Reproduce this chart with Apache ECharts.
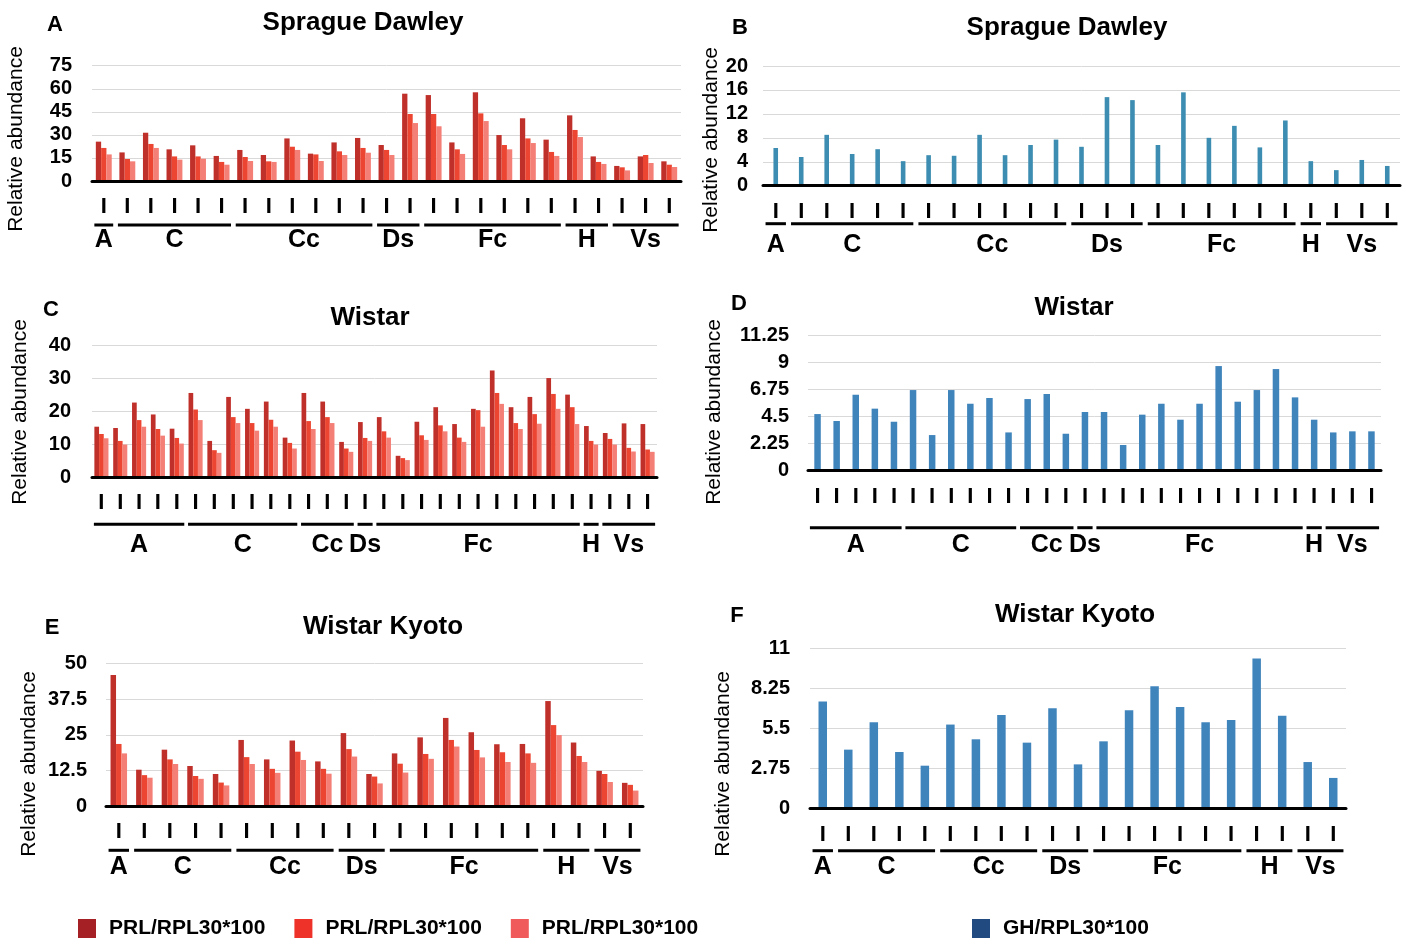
<!DOCTYPE html>
<html>
<head>
<meta charset="utf-8">
<script src="https://cdn.jsdelivr.net/npm/echarts@6/dist/echarts.min.js"></script>
<style>
  html, body { margin: 0; padding: 0; background: #fff; }
  #chart { width: 1417px; height: 938px; }
</style>
</head>
<body>
<div id="chart"></div>
<script>
// ---- data ---------------------------------------------------------------
const tissues = ['A', 'C', 'Cc', 'Ds', 'Fc', 'H', 'Vs'];
const tickMark = 'I';
const prlLabel = 'PRL/RPL30*100';
const ghLabel = 'GH/RPL30*100';
const yName = 'Relative abundance';

// samples per tissue in each panel
const sdPrlSizes = [1, 5, 6, 2, 6, 2, 3];
const sdGhSizes  = [1, 5, 6, 3, 6, 1, 3];
const wSizes     = [5, 6, 3, 1, 11, 1, 3];
const wkSizes    = [1, 4, 4, 2, 6, 2, 2];

// Sprague Dawley
const sdPrl1 = [25.6, 18.6, 31.4, 20.6, 23.2, 16.3, 20.2, 16.9, 27.7, 17.8, 25.1, 28.0, 23.4, 56.8, 55.9, 25.1, 57.7, 29.9, 40.8, 26.9, 42.7, 16.0, 9.8, 16.0, 12.8];
const sdPrl2 = [21.5, 14.3, 24.1, 16.0, 16.0, 12.4, 15.6, 12.8, 22.3, 17.3, 19.3, 21.5, 20.2, 43.6, 43.6, 20.6, 44.0, 23.4, 27.7, 18.9, 33.2, 12.4, 8.9, 16.9, 10.6];
const sdPrl3 = [17.3, 12.8, 21.5, 13.9, 14.5, 10.6, 13.0, 12.4, 20.2, 13.0, 16.9, 18.4, 16.9, 37.7, 35.6, 17.6, 39.0, 20.6, 24.7, 16.3, 28.6, 11.1, 6.9, 11.7, 9.1];
const sdGh   = [6.3, 4.8, 8.5, 5.3, 6.1, 4.1, 5.1, 5.0, 8.5, 5.1, 6.8, 7.7, 6.5, 14.8, 14.3, 6.8, 15.6, 8.0, 10.0, 6.4, 10.9, 4.1, 2.6, 4.3, 3.3];

// Wistar
const wPrl1 = [15.3, 14.9, 22.6, 19.0, 14.7, 25.5, 11.0, 24.3, 20.7, 22.9, 12.0, 25.5, 22.9, 10.7, 16.7, 18.2, 6.5, 16.8, 21.2, 16.1, 20.7, 32.3, 21.2, 24.3, 30.0, 25.0, 15.5, 13.4, 16.3, 16.1];
const wPrl2 = [13.1, 11.0, 17.3, 14.6, 11.9, 20.5, 8.2, 18.2, 16.4, 17.4, 10.4, 17.0, 18.2, 8.7, 11.9, 13.9, 5.8, 12.7, 15.7, 12.0, 20.3, 25.5, 16.4, 19.1, 25.2, 21.2, 11.0, 11.6, 8.9, 8.4];
const wPrl3 = [11.8, 9.9, 15.3, 12.6, 10.2, 17.3, 7.4, 16.4, 14.1, 15.3, 8.7, 14.6, 16.4, 7.7, 11.0, 12.0, 5.2, 11.3, 13.9, 10.7, 15.3, 22.2, 14.6, 16.2, 20.7, 16.1, 9.9, 9.9, 7.8, 7.7];
const wGh   = [4.72, 4.14, 6.33, 5.17, 4.08, 6.72, 2.97, 6.72, 5.58, 6.06, 3.19, 5.97, 6.39, 3.08, 4.89, 4.89, 2.14, 4.67, 5.58, 4.25, 5.58, 8.72, 5.75, 6.72, 8.47, 6.11, 4.25, 3.19, 3.28, 3.28];

// Wistar Kyoto
const wkPrl1 = [45.9, 12.8, 19.8, 14.1, 11.3, 23.2, 16.4, 23.0, 15.7, 25.6, 11.3, 18.5, 24.1, 30.9, 25.9, 21.7, 21.8, 36.8, 22.3, 12.4, 8.2];
const wkPrl2 = [21.8, 10.9, 16.4, 10.6, 8.3, 17.2, 13.1, 19.1, 13.1, 20.0, 10.4, 14.9, 18.3, 23.2, 19.7, 18.9, 18.5, 28.4, 17.6, 11.3, 7.5];
const wkPrl3 = [18.5, 10.0, 14.8, 9.6, 7.3, 14.8, 11.7, 16.2, 11.4, 17.4, 8.0, 11.8, 16.6, 20.9, 17.1, 15.5, 15.2, 24.9, 15.5, 8.5, 5.5];
const wkGh   = [7.35, 4.05, 5.93, 3.89, 2.95, 5.77, 4.76, 6.43, 4.53, 6.89, 3.04, 4.62, 6.75, 8.40, 6.98, 5.93, 6.09, 10.30, 6.38, 3.20, 2.11];

// y-axis ranges [max, interval]
const yA = [75, 15], yB = [20, 4], yC = [40, 10], yD = [11.25, 2.25], yE = [50, 12.5], yF = [11, 2.75];

// ---- styling -------------------------------------------------------------
const FONT = 'Liberation Sans, Arial, Helvetica, sans-serif';
const PRL_COLORS = ['#C0302B', '#EC4632', '#F47F77'];
const PRL_LEGEND = ['#A52024', '#EE3129', '#F05A5A'];
const GH_LEGEND = '#214A80';

// ---- helpers -------------------------------------------------------------
function categoriesFrom(sizes) {
  const out = [];
  sizes.forEach((n, g) => { for (let k = 1; k <= n; k++) out.push(tissues[g] + '-' + k); });
  return out;
}
function groupsFrom(sizes) {
  const out = [];
  let start = 0;
  sizes.forEach((n, g) => { out.push({ name: tissues[g], first: start, last: start + n - 1 }); start += n; });
  return out;
}

const panels = [
  { letter: 'A', title: 'Sprague Dawley', sizes: sdPrlSizes, y: yA,
    series: [['prl1', sdPrl1], ['prl2', sdPrl2], ['prl3', sdPrl3]], colors: PRL_COLORS, barWidth: 5.3,
    box: { left: 92, top: 65.7, width: 589, height: 115.3 }, yMargin: 20,
    lineOff: 44, labelOff: 59, titleAt: [363, 23], letterAt: [55, 25], nameAt: [16, 139] },
  { letter: 'B', title: 'Sprague Dawley', sizes: sdGhSizes, y: yB,
    series: [['gh', sdGh]], colors: ['#3C8DB1'], barWidth: 4.6,
    box: { left: 763, top: 66, width: 637, height: 119.7 }, yMargin: 15,
    lineOff: 38, labelOff: 59, titleAt: [1067, 28], letterAt: [740, 28], nameAt: [711, 140] },
  { letter: 'C', title: 'Wistar', sizes: wSizes, y: yC,
    series: [['prl1', wPrl1], ['prl2', wPrl2], ['prl3', wPrl3]], colors: PRL_COLORS, barWidth: 4.7,
    box: { left: 92, top: 345, width: 565, height: 132.3 }, yMargin: 21,
    lineOff: 47, labelOff: 68, titleAt: [370, 318], letterAt: [51, 310], nameAt: [20, 412] },
  { letter: 'D', title: 'Wistar', sizes: wSizes, y: yD,
    series: [['gh', wGh]], colors: ['#4084BC'], barWidth: 6.5,
    box: { left: 808, top: 335.7, width: 573, height: 135 }, yMargin: 19,
    lineOff: 57, labelOff: 74, titleAt: [1074, 308], letterAt: [739, 304], nameAt: [714, 412] },
  { letter: 'E', title: 'Wistar Kyoto', sizes: wkSizes, y: yE,
    series: [['prl1', wkPrl1], ['prl2', wkPrl2], ['prl3', wkPrl3]], colors: PRL_COLORS, barWidth: 5.5,
    box: { left: 106, top: 663.3, width: 537, height: 143 }, yMargin: 19,
    lineOff: 44, labelOff: 61, titleAt: [383, 627], letterAt: [52, 628], nameAt: [29, 764] },
  { letter: 'F', title: 'Wistar Kyoto', sizes: wkSizes, y: yF,
    series: [['gh', wkGh]], colors: ['#4084BC'], barWidth: 8.5,
    box: { left: 810, top: 648.3, width: 536, height: 160.4 }, yMargin: 20,
    lineOff: 42, labelOff: 58, titleAt: [1075, 615], letterAt: [737, 616], nameAt: [723, 764] }
];

const option = {
  animation: false,
  backgroundColor: '#ffffff',
  textStyle: { fontFamily: FONT },
  grid: [], xAxis: [], yAxis: [], series: [], graphic: [],
  legend: [
    { left: 78, top: 918, padding: 0, itemWidth: 18, itemHeight: 19, itemGap: 29, icon: 'rect',
      selectedMode: false, formatter: () => prlLabel,
      data: ['prl1', 'prl2', 'prl3'].map((n, i) => ({ name: n, itemStyle: { color: PRL_LEGEND[i] } })),
      textStyle: { fontSize: 21, fontWeight: 'bold', color: '#000', fontFamily: FONT, padding: [0, 0, 0, 8] } },
    { left: 972, top: 918, padding: 0, itemWidth: 18, itemHeight: 19, icon: 'rect',
      selectedMode: false, formatter: () => ghLabel,
      data: [{ name: 'gh', itemStyle: { color: GH_LEGEND } }],
      textStyle: { fontSize: 21, fontWeight: 'bold', color: '#000', fontFamily: FONT, padding: [0, 0, 0, 8] } }
  ]
};

panels.forEach((p, i) => {
  const cats = categoriesFrom(p.sizes);
  const groups = groupsFrom(p.sizes);

  option.grid.push(Object.assign({ containLabel: false, outerBoundsMode: 'none' }, p.box));

  option.xAxis.push({
    type: 'category', gridIndex: i, data: cats, boundaryGap: true,
    axisLine: { show: true, lineStyle: { color: '#000', width: 3 } },
    axisTick: { show: false },
    axisLabel: { interval: 0, formatter: () => tickMark, margin: 26, verticalAlign: 'middle',
                 fontSize: 22, fontWeight: 'bold', color: '#000', fontFamily: FONT },
    splitLine: { show: false }, z: 10
  });

  option.yAxis.push({
    type: 'value', gridIndex: i, min: 0, max: p.y[0], interval: p.y[1],
    axisLine: { show: false }, axisTick: { show: false },
    axisLabel: { margin: p.yMargin, fontSize: 20, fontWeight: 'bold', color: '#000', fontFamily: FONT },
    splitLine: { show: true, lineStyle: { color: '#D9D9D9', width: 1 } }
  });

  p.series.forEach(([name, data], k) => {
    option.series.push({
      type: 'bar', name: name, xAxisIndex: i, yAxisIndex: i, data: data,
      barWidth: p.barWidth, barGap: '0%',
      itemStyle: { color: p.colors[k] }, silent: true
    });
  });

  // tissue brackets: underline + label beneath each group of samples
  option.series.push({
    type: 'custom', xAxisIndex: i, yAxisIndex: i, silent: true, clip: false, z: 5,
    encode: { x: 0, y: 1 },
    data: groups.map(g => [g.first, 0, g.last]),
    renderItem: (params, api) => {
      const a = api.coord([api.value(0), 0]);
      const b = api.coord([api.value(2), 0]);
      const bw = api.size([1, 0])[0];
      const x1 = a[0] - 0.4 * bw, x2 = b[0] + 0.4 * bw;
      return {
        type: 'group',
        children: [
          { type: 'line', shape: { x1: x1, y1: a[1] + p.lineOff, x2: x2, y2: a[1] + p.lineOff },
            style: { stroke: '#000', lineWidth: 3 } },
          { type: 'text', x: (x1 + x2) / 2, y: a[1] + p.labelOff,
            style: { text: groups[params.dataIndex].name, align: 'center', verticalAlign: 'middle',
                     fontSize: 25, fontWeight: 'bold', fill: '#000', fontFamily: FONT } }
        ]
      };
    }
  });

  option.graphic.push(
    { type: 'text', x: p.titleAt[0], y: p.titleAt[1], silent: true,
      style: { text: p.title, align: 'center', verticalAlign: 'middle', fontSize: 26, fontWeight: 'bold', fill: '#000', fontFamily: FONT } },
    { type: 'text', x: p.letterAt[0], y: p.letterAt[1], silent: true,
      style: { text: p.letter, align: 'center', verticalAlign: 'middle', fontSize: 22, fontWeight: 'bold', fill: '#000', fontFamily: FONT } },
    { type: 'text', x: p.nameAt[0], y: p.nameAt[1], rotation: Math.PI / 2, silent: true,
      style: { text: yName, align: 'center', verticalAlign: 'middle', fontSize: 21, fill: '#000', fontFamily: FONT } }
  );
});

const chart = echarts.init(document.getElementById('chart'), null, { renderer: 'canvas' });
chart.setOption(option);
</script>
</body>
</html>
